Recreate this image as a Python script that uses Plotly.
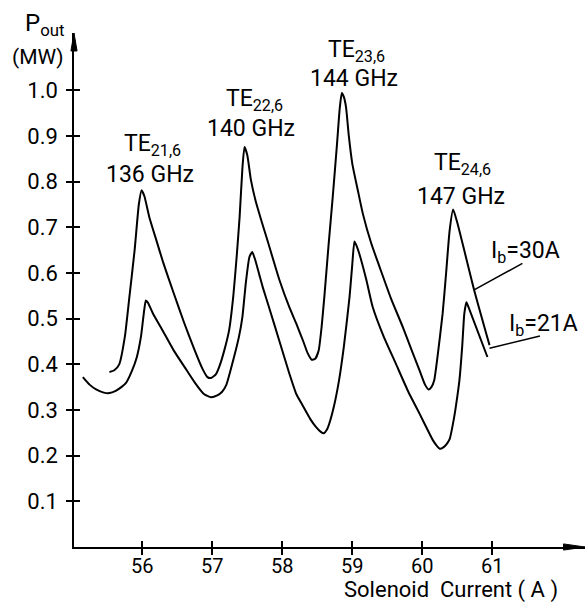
import plotly.graph_objects as go

# Solenoid current (A) and output power (MW) for the two beam currents
current_30A = [55.53, 55.60, 55.67, 55.75, 55.81, 55.89, 55.95, 55.99, 56.03, 56.10,
               56.20, 56.30, 56.45, 56.60, 56.75, 56.86, 56.93, 56.98, 57.05, 57.10,
               57.17, 57.24, 57.30, 57.35, 57.39, 57.43, 57.46, 57.50, 57.55, 57.62,
               57.70, 57.80, 57.96, 58.10, 58.20, 58.30, 58.36, 58.42, 58.47, 58.52,
               58.56, 58.60, 58.66, 58.72, 58.78, 58.82, 58.85, 58.88, 58.91, 58.95,
               59.00, 59.08, 59.15, 59.27, 59.39, 59.55, 59.72, 59.85, 59.96, 60.04,
               60.09, 60.13, 60.17, 60.22, 60.29, 60.34, 60.39, 60.44, 60.50, 60.74,
               60.96]
power_30A = [0.383, 0.387, 0.400, 0.460, 0.540, 0.650, 0.750, 0.781, 0.768, 0.722,
             0.672, 0.622, 0.555, 0.490, 0.430, 0.390, 0.372, 0.370, 0.378, 0.395,
             0.430, 0.475, 0.550, 0.640, 0.723, 0.830, 0.876, 0.858, 0.805, 0.757,
             0.715, 0.665, 0.584, 0.525, 0.489, 0.450, 0.425, 0.410, 0.412, 0.431,
             0.480, 0.547, 0.660, 0.766, 0.880, 0.960, 0.994, 0.985, 0.963, 0.900,
             0.839, 0.780, 0.730, 0.665, 0.613, 0.545, 0.482, 0.430, 0.387, 0.355,
             0.345, 0.350, 0.365, 0.420, 0.511, 0.600, 0.693, 0.739, 0.710, 0.563,
             0.442]

current_21A = [55.15, 55.25, 55.34, 55.45, 55.53, 55.62, 55.70, 55.77, 55.85, 55.92,
               55.98, 56.02, 56.05, 56.08, 56.15, 56.29, 56.45, 56.60, 56.75, 56.88,
               56.98, 57.07, 57.14, 57.20, 57.30, 57.38, 57.43, 57.48, 57.53, 57.57,
               57.61, 57.67, 57.72, 57.80, 57.96, 58.10, 58.20, 58.29, 58.40, 58.48,
               58.55, 58.59, 58.64, 58.67, 58.74, 58.81, 58.88, 58.96, 59.00, 59.03,
               59.06, 59.10, 59.20, 59.29, 59.45, 59.62, 59.80, 59.96, 60.08, 60.15,
               60.21, 60.25, 60.30, 60.35, 60.39, 60.45, 60.50, 60.53, 60.57, 60.60,
               60.63, 60.66, 60.93]
power_21A = [0.372, 0.355, 0.345, 0.338, 0.337, 0.342, 0.350, 0.360, 0.385, 0.415,
             0.460, 0.510, 0.540, 0.535, 0.512, 0.474, 0.430, 0.395, 0.360, 0.335,
             0.328, 0.332, 0.340, 0.355, 0.410, 0.460, 0.504, 0.580, 0.635, 0.646,
             0.630, 0.597, 0.569, 0.530, 0.450, 0.380, 0.335, 0.310, 0.280, 0.263,
             0.252, 0.249, 0.258, 0.270, 0.310, 0.365, 0.440, 0.547, 0.620, 0.669,
             0.660, 0.642, 0.585, 0.526, 0.460, 0.402, 0.340, 0.292, 0.255, 0.234,
             0.221, 0.215, 0.218, 0.226, 0.236, 0.280, 0.330, 0.365, 0.440, 0.511,
             0.536, 0.525, 0.416]

x_ticks = [56, 57, 58, 59, 60, 61]
y_ticks = [0.1, 0.2, 0.3, 0.4, 0.5, 0.6, 0.7, 0.8, 0.9, 1.0]
y_tick_text = ["0.1", "0.2", "0.3", "0.4", "0.5", "0.6", "0.7", "0.8", "0.9", "1.0"]

# Mode labels: (text, x, y)
mode_labels = [
    ("TE<sub>21,6</sub>", 56.15, 0.880),
    ("136 GHz", 56.11, 0.815),
    ("TE<sub>22,6</sub>", 57.60, 0.978),
    ("140 GHz", 57.55, 0.917),
    ("TE<sub>23,6</sub>", 59.06, 1.086),
    ("144 GHz", 59.02, 1.026),
    ("TE<sub>24,6</sub>", 60.57, 0.838),
    ("147 GHz", 60.55, 0.768),
]
beam_labels = [
    ("I<sub>b</sub>=30A", 61.48, 0.645),
    ("I<sub>b</sub>=21A", 61.73, 0.487),
]
# Leader lines from each curve to its beam-current label
leaders = [
    (60.74, 0.563, 61.43, 0.621),
    (60.96, 0.435, 61.68, 0.462),
]

FONT = "Roboto"
INK = "black"
X_RANGE = [55.024, 62.324]
Y_RANGE = [0, 1.1255]

fig = go.Figure()
fig.add_trace(go.Scatter(x=current_30A, y=power_30A, mode="lines",
                         line=dict(color=INK, width=2, shape="spline",
                                   smoothing=0.5),
                         showlegend=False, hoverinfo="skip"))
fig.add_trace(go.Scatter(x=current_21A, y=power_21A, mode="lines",
                         xaxis="x2", yaxis="y2",
                         line=dict(color=INK, width=2, shape="spline",
                                   smoothing=0.5),
                         showlegend=False, hoverinfo="skip"))

for text, x, y in mode_labels + beam_labels:
    fig.add_annotation(x=x, y=y, xref="x", yref="y", text=text, showarrow=False,
                       xanchor="center", yanchor="middle",
                       font=dict(family=FONT, size=23, color=INK))

for x0, y0, x1, y1 in leaders:
    fig.add_shape(type="line", xref="x", yref="y", x0=x0, y0=y0, x1=x1, y1=y1,
                  line=dict(color=INK, width=1.5))

# Axis titles
fig.add_annotation(x=-0.058, y=1.016, xref="paper", yref="paper",
                   text="P<sub>out</sub>", showarrow=False,
                   xanchor="center", yanchor="middle",
                   font=dict(family=FONT, size=24, color=INK))
fig.add_annotation(x=-0.07, y=0.953, xref="paper", yref="paper",
                   text="(MW)", showarrow=False,
                   xanchor="center", yanchor="middle",
                   font=dict(family=FONT, size=21, color=INK))
fig.add_annotation(x=0.737, y=-0.084, xref="paper", yref="paper",
                   text="Solenoid  Current ( A )", showarrow=False,
                   xanchor="center", yanchor="middle",
                   font=dict(family=FONT, size=22, color=INK))

# Arrowheads at the ends of both axes
fig.add_shape(type="path", xref="paper", yref="paper",
              path="M 1 0 L 0.958 0.006 L 0.958 -0.006 Z",
              fillcolor=INK, line=dict(color=INK, width=1))
fig.add_shape(type="path", xref="paper", yref="paper",
              path="M 0 1 L -0.006 0.965 L 0.006 0.965 Z",
              fillcolor=INK, line=dict(color=INK, width=1))

axis_common = dict(showgrid=False, zeroline=False, showline=True,
                   linecolor=INK, linewidth=1.5, tickcolor=INK, tickwidth=1.5,
                   ticklen=6)

fig.update_layout(
    width=585, height=603,
    margin=dict(l=74, r=0, t=33, b=56),
    paper_bgcolor="white", plot_bgcolor="white",
    font=dict(family=FONT, size=22, color=INK),
    xaxis=dict(range=X_RANGE, tickvals=x_ticks, ticks="inside",
               tickfont=dict(family=FONT, size=20, color=INK),
               ticklabelstandoff=0, **axis_common),
    yaxis=dict(range=Y_RANGE, tickvals=y_ticks, ticktext=y_tick_text,
               ticks="inside",
               tickfont=dict(family=FONT, size=22, color=INK),
               ticklabelstandoff=10, **axis_common),
    # Overlay axes carry the outer half of the crossing tick marks
    xaxis2=dict(range=X_RANGE, tickvals=x_ticks, ticks="outside",
                showticklabels=False, overlaying="x", anchor="y2",
                **axis_common),
    yaxis2=dict(range=Y_RANGE, tickvals=y_ticks, ticks="outside",
                showticklabels=False, overlaying="y", anchor="x2",
                **axis_common),
)

fig.write_html("out.html")
